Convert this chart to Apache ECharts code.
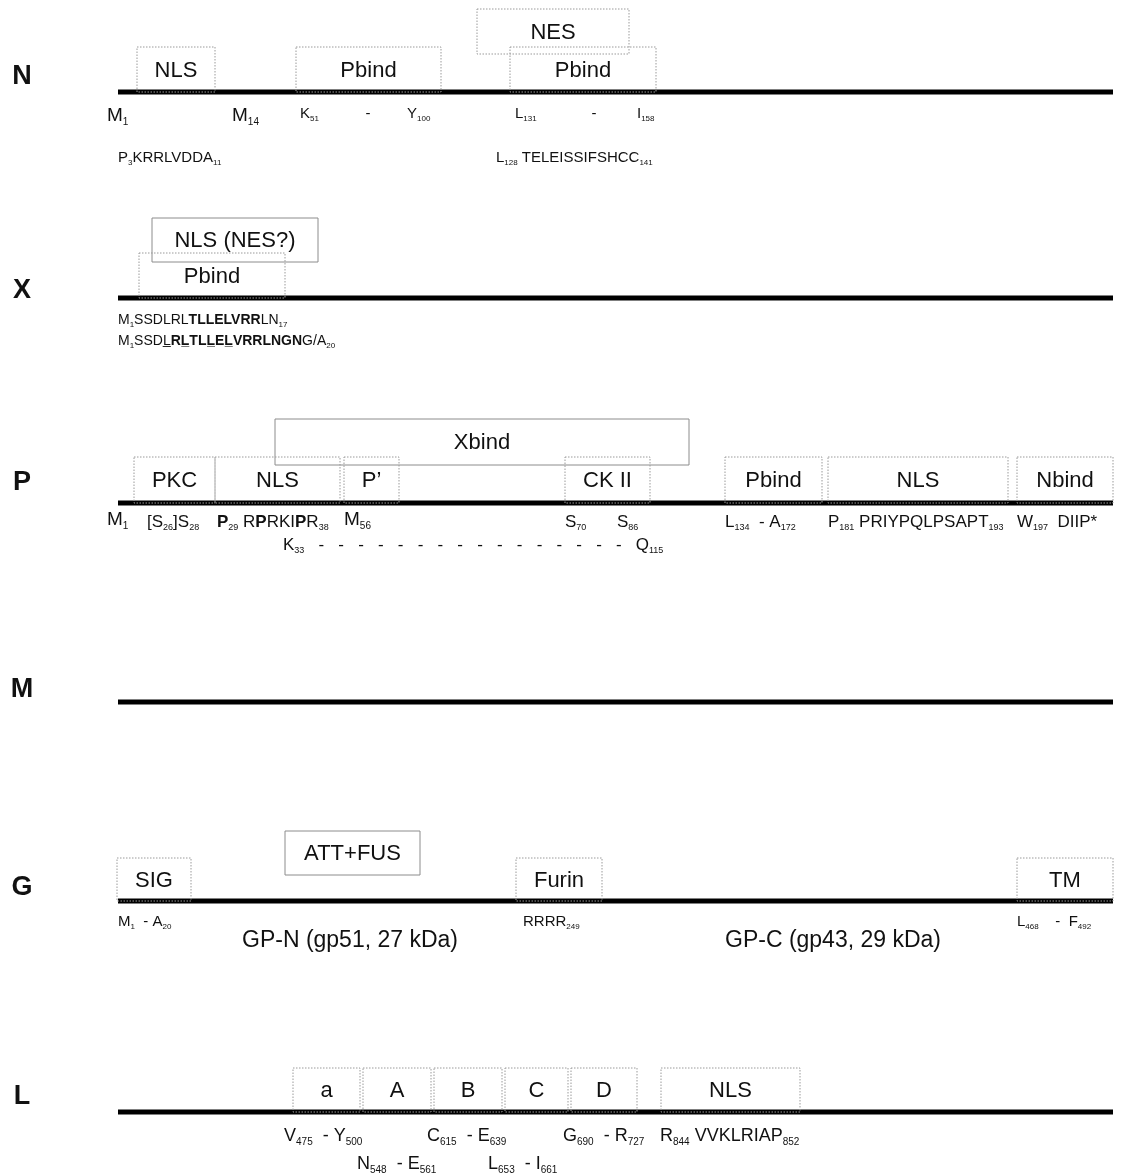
<!DOCTYPE html>
<html>
<head>
<meta charset="utf-8">
<script src="https://cdn.jsdelivr.net/npm/echarts@6/dist/echarts.min.js"></script>
<style>
html,body{margin:0;padding:0;background:#fff;}
#c{width:1127px;height:1174px;}
</style>
</head>
<body>
<div id="c"></div>
<script>
// ---- data ----
const rowNames = ['N', 'X', 'P', 'M', 'G', 'L'];
const rowLabelY = [77, 291, 483, 690, 888, 1097];
const backboneY = [92, 298, 503, 702, 901, 1112];
const backboneX = [118, 1113];

// boxes: [xStart, xEnd, yTop, yBottom, label, solid?]
const boxesN = [
  [137, 215, 47, 92, 'NLS', 0],
  [296, 441, 47, 92, 'Pbind', 0],
  [477, 629, 9, 54, 'NES', 0],
  [510, 656, 47, 92, 'Pbind', 0]
];
const boxesX = [
  [152, 318, 218, 262, 'NLS (NES?)', 1],
  [139, 285, 253, 298, 'Pbind', 0]
];
const boxesP = [
  [275, 689, 419, 465, 'Xbind', 1],
  [134, 215, 457, 503, 'PKC', 0],
  [215, 340, 457, 503, 'NLS', 0],
  [344, 399, 457, 503, 'P\u2019', 0],
  [565, 650, 457, 503, 'CK II', 0],
  [725, 822, 457, 503, 'Pbind', 0],
  [828, 1008, 457, 503, 'NLS', 0],
  [1017, 1113, 457, 503, 'Nbind', 0]
];
const boxesG = [
  [117, 191, 858, 901, 'SIG', 0],
  [285, 420, 831, 875, 'ATT+FUS', 1],
  [516, 602, 858, 901, 'Furin', 0],
  [1017, 1113, 858, 901, 'TM', 0]
];
const boxesL = [
  [293, 360, 1068, 1112, 'a', 0],
  [363, 431, 1068, 1112, 'A', 0],
  [434, 502, 1068, 1112, 'B', 0],
  [505, 568, 1068, 1112, 'C', 0],
  [571, 637, 1068, 1112, 'D', 0],
  [661, 800, 1068, 1112, 'NLS', 0]
];

// annotations: [x, y, align, class, markup]   (_{..}=subscript, ^=bold toggle, ~=underline next char)
const notesN = [
  [107, 116, 'left', 'big', 'M_{1}'],
  [232, 116, 'left', 'big', 'M_{14}'],
  [300, 114, 'left', 'sm', 'K_{51}'],
  [368, 114, 'center', 'sm', '-'],
  [407, 114, 'left', 'sm', 'Y_{100}'],
  [515, 114, 'left', 'sm', 'L_{131}'],
  [594, 114, 'center', 'sm', '-'],
  [637, 114, 'left', 'sm', 'I_{158}'],
  [118, 158, 'left', 'sm', 'P_{3}KRRLVDDA_{11}'],
  [496, 158, 'left', 'sm', 'L_{128} TELEISSIFSHCC_{141}']
];
const notesX = [
  [118, 320, 'left', 'seq', 'M_{1}SSDLRL^TLLELVRR^LN_{17}'],
  [118, 341, 'left', 'seq', 'M_{1}SSD~L^R~LTL~LE~LVRRLNGN^G/A_{20}']
];
const notesP = [
  [107, 520, 'left', 'big', 'M_{1}'],
  [147, 522, 'left', 'mid', '[S_{26}]S_{28}'],
  [217, 522, 'left', 'mid', '^P^_{29} R^P^RKI^P^R_{38}'],
  [344, 520, 'left', 'big', 'M_{56}'],
  [565, 522, 'left', 'mid', 'S_{70}'],
  [617, 522, 'left', 'mid', 'S_{86}'],
  [725, 522, 'left', 'mid', 'L_{134}  - A_{172}'],
  [828, 522, 'left', 'mid', 'P_{181} PRIYPQLPSAPT_{193}'],
  [1017, 522, 'left', 'mid', 'W_{197}  DIIP*'],
  [283, 545, 'left', 'mid', 'K_{33}   -   -   -   -   -   -   -   -   -   -   -   -   -   -   -   -   Q_{115}']
];
const notesG = [
  [118, 922, 'left', 'sm', 'M_{1}  - A_{20}'],
  [350, 941, 'center', 'gp', 'GP-N (gp51, 27 kDa)'],
  [523, 922, 'left', 'sm', 'RRRR_{249}'],
  [833, 941, 'center', 'gp', 'GP-C (gp43, 29 kDa)'],
  [1017, 922, 'left', 'sm', 'L_{468}    -  F_{492}']
];
const notesL = [
  [284, 1136, 'left', 'lrow', 'V_{475}  - Y_{500}'],
  [427, 1136, 'left', 'lrow', 'C_{615}  - E_{639}'],
  [563, 1136, 'left', 'lrow', 'G_{690}  - R_{727}'],
  [660, 1136, 'left', 'lrow', 'R_{844} VVKLRIAP_{852}'],
  [357, 1164, 'left', 'lrow', 'N_{548}  - E_{561}'],
  [488, 1164, 'left', 'lrow', 'L_{653}  - I_{661}']
];

// ---- styles ----
const FONT = '"Liberation Sans", Arial, Helvetica, sans-serif';
const classSize = { big: 19, sm: 15, seq: 14, mid: 17, gp: 23, lrow: 18 };
const boxFontSize = 22;
const rowFontSize = 27;

function toRich(markup, size) {
  const tokens = [];
  let bold = false;
  let i = 0;
  function push(style, ch) {
    const last = tokens[tokens.length - 1];
    if (last && last.s === style) last.t += ch; else tokens.push({ s: style, t: ch });
  }
  while (i < markup.length) {
    const c = markup[i];
    if (c === '^') { bold = !bold; i++; continue; }
    if (c === '_' && markup[i + 1] === '{') {
      const j = markup.indexOf('}', i);
      const sub = markup.slice(i + 2, j);
      tokens.push({ s: bold ? 'sb' : 's', t: sub });
      i = j + 1;
      continue;
    }
    if (c === '~') {
      push(bold ? 'b' : 'n', markup[i + 1] + '\u0332');
      i += 2;
      continue;
    }
    push(bold ? 'b' : 'n', c);
    i++;
  }
  const sub = Math.round(size * 0.55);
  const lh = Math.round(size * 1.25);
  const rich = {
    n: { fontSize: size, fontFamily: FONT, color: '#111', lineHeight: lh, verticalAlign: 'bottom', height: lh },
    b: { fontSize: size, fontFamily: FONT, color: '#111', fontWeight: 'bold', lineHeight: lh, verticalAlign: 'bottom', height: lh },
    s: { fontSize: sub, fontFamily: FONT, color: '#111', lineHeight: sub, verticalAlign: 'bottom', height: sub + 1 },
    sb: { fontSize: sub, fontFamily: FONT, color: '#111', fontWeight: 'bold', lineHeight: sub, verticalAlign: 'bottom', height: sub + 1 }
  };
  const text = tokens.map(t => '{' + t.s + '|' + t.t + '}').join('');
  return { text, rich };
}

const allBoxes = [].concat(boxesN, boxesX, boxesP, boxesG, boxesL);
const allNotes = [].concat(notesN, notesX, notesP, notesG, notesL);

const chart = echarts.init(document.getElementById('c'), null, { renderer: 'canvas' });

chart.setOption({
  animation: false,
  backgroundColor: '#ffffff',
  grid: { left: 0, right: 0, top: 0, bottom: 0 },
  xAxis: { type: 'value', min: 0, max: 1127, show: false },
  yAxis: { type: 'value', min: 0, max: 1174, inverse: true, show: false },
  series: [
    {
      type: 'custom',
      name: 'backbone',
      data: backboneY.map(y => [backboneX[0], backboneX[1], y]),
      renderItem: function (params, api) {
        const p1 = api.coord([api.value(0), api.value(2)]);
        const p2 = api.coord([api.value(1), api.value(2)]);
        return {
          type: 'line',
          shape: { x1: p1[0], y1: p1[1], x2: p2[0], y2: p2[1] },
          style: { stroke: '#000', lineWidth: 5 }
        };
      }
    },
    {
      type: 'custom',
      name: 'boxes',
      data: allBoxes,
      renderItem: function (params, api) {
        const b = allBoxes[params.dataIndex];
        const p1 = api.coord([b[0], b[2]]);
        const p2 = api.coord([b[1], b[3]]);
        return {
          type: 'group',
          children: [
            {
              type: 'rect',
              shape: { x: p1[0], y: p1[1], width: p2[0] - p1[0], height: p2[1] - p1[1] },
              style: {
                fill: 'none',
                stroke: b[5] ? '#8c8c8c' : '#9a9a9a',
                lineWidth: 1,
                lineDash: b[5] ? null : [1.5, 1.5]
              }
            },
            {
              type: 'text',
              style: {
                x: (p1[0] + p2[0]) / 2,
                y: (p1[1] + p2[1]) / 2 + 1,
                text: b[4],
                align: 'center',
                verticalAlign: 'middle',
                fontSize: boxFontSize,
                fontFamily: FONT,
                fill: '#111'
              }
            }
          ]
        };
      }
    },
    {
      type: 'custom',
      name: 'rowLabels',
      data: rowNames.map((n, i) => [22, rowLabelY[i], n]),
      renderItem: function (params, api) {
        const p = api.coord([api.value(0), api.value(1)]);
        return {
          type: 'text',
          style: {
            x: p[0], y: p[1], text: rowNames[params.dataIndex],
            align: 'center', verticalAlign: 'middle',
            fontSize: rowFontSize, fontWeight: 'bold', fontFamily: FONT, fill: '#111'
          }
        };
      }
    },
    {
      type: 'custom',
      name: 'notes',
      data: allNotes.map(n => [n[0], n[1]]),
      renderItem: function (params, api) {
        const n = allNotes[params.dataIndex];
        const p = api.coord([n[0], n[1]]);
        const r = toRich(n[4], classSize[n[3]]);
        return {
          type: 'text',
          style: {
            x: p[0], y: p[1], text: r.text, rich: r.rich,
            align: n[2], verticalAlign: 'middle',
            fontFamily: FONT, fill: '#111'
          }
        };
      }
    }
  ]
});
</script>
</body>
</html>
